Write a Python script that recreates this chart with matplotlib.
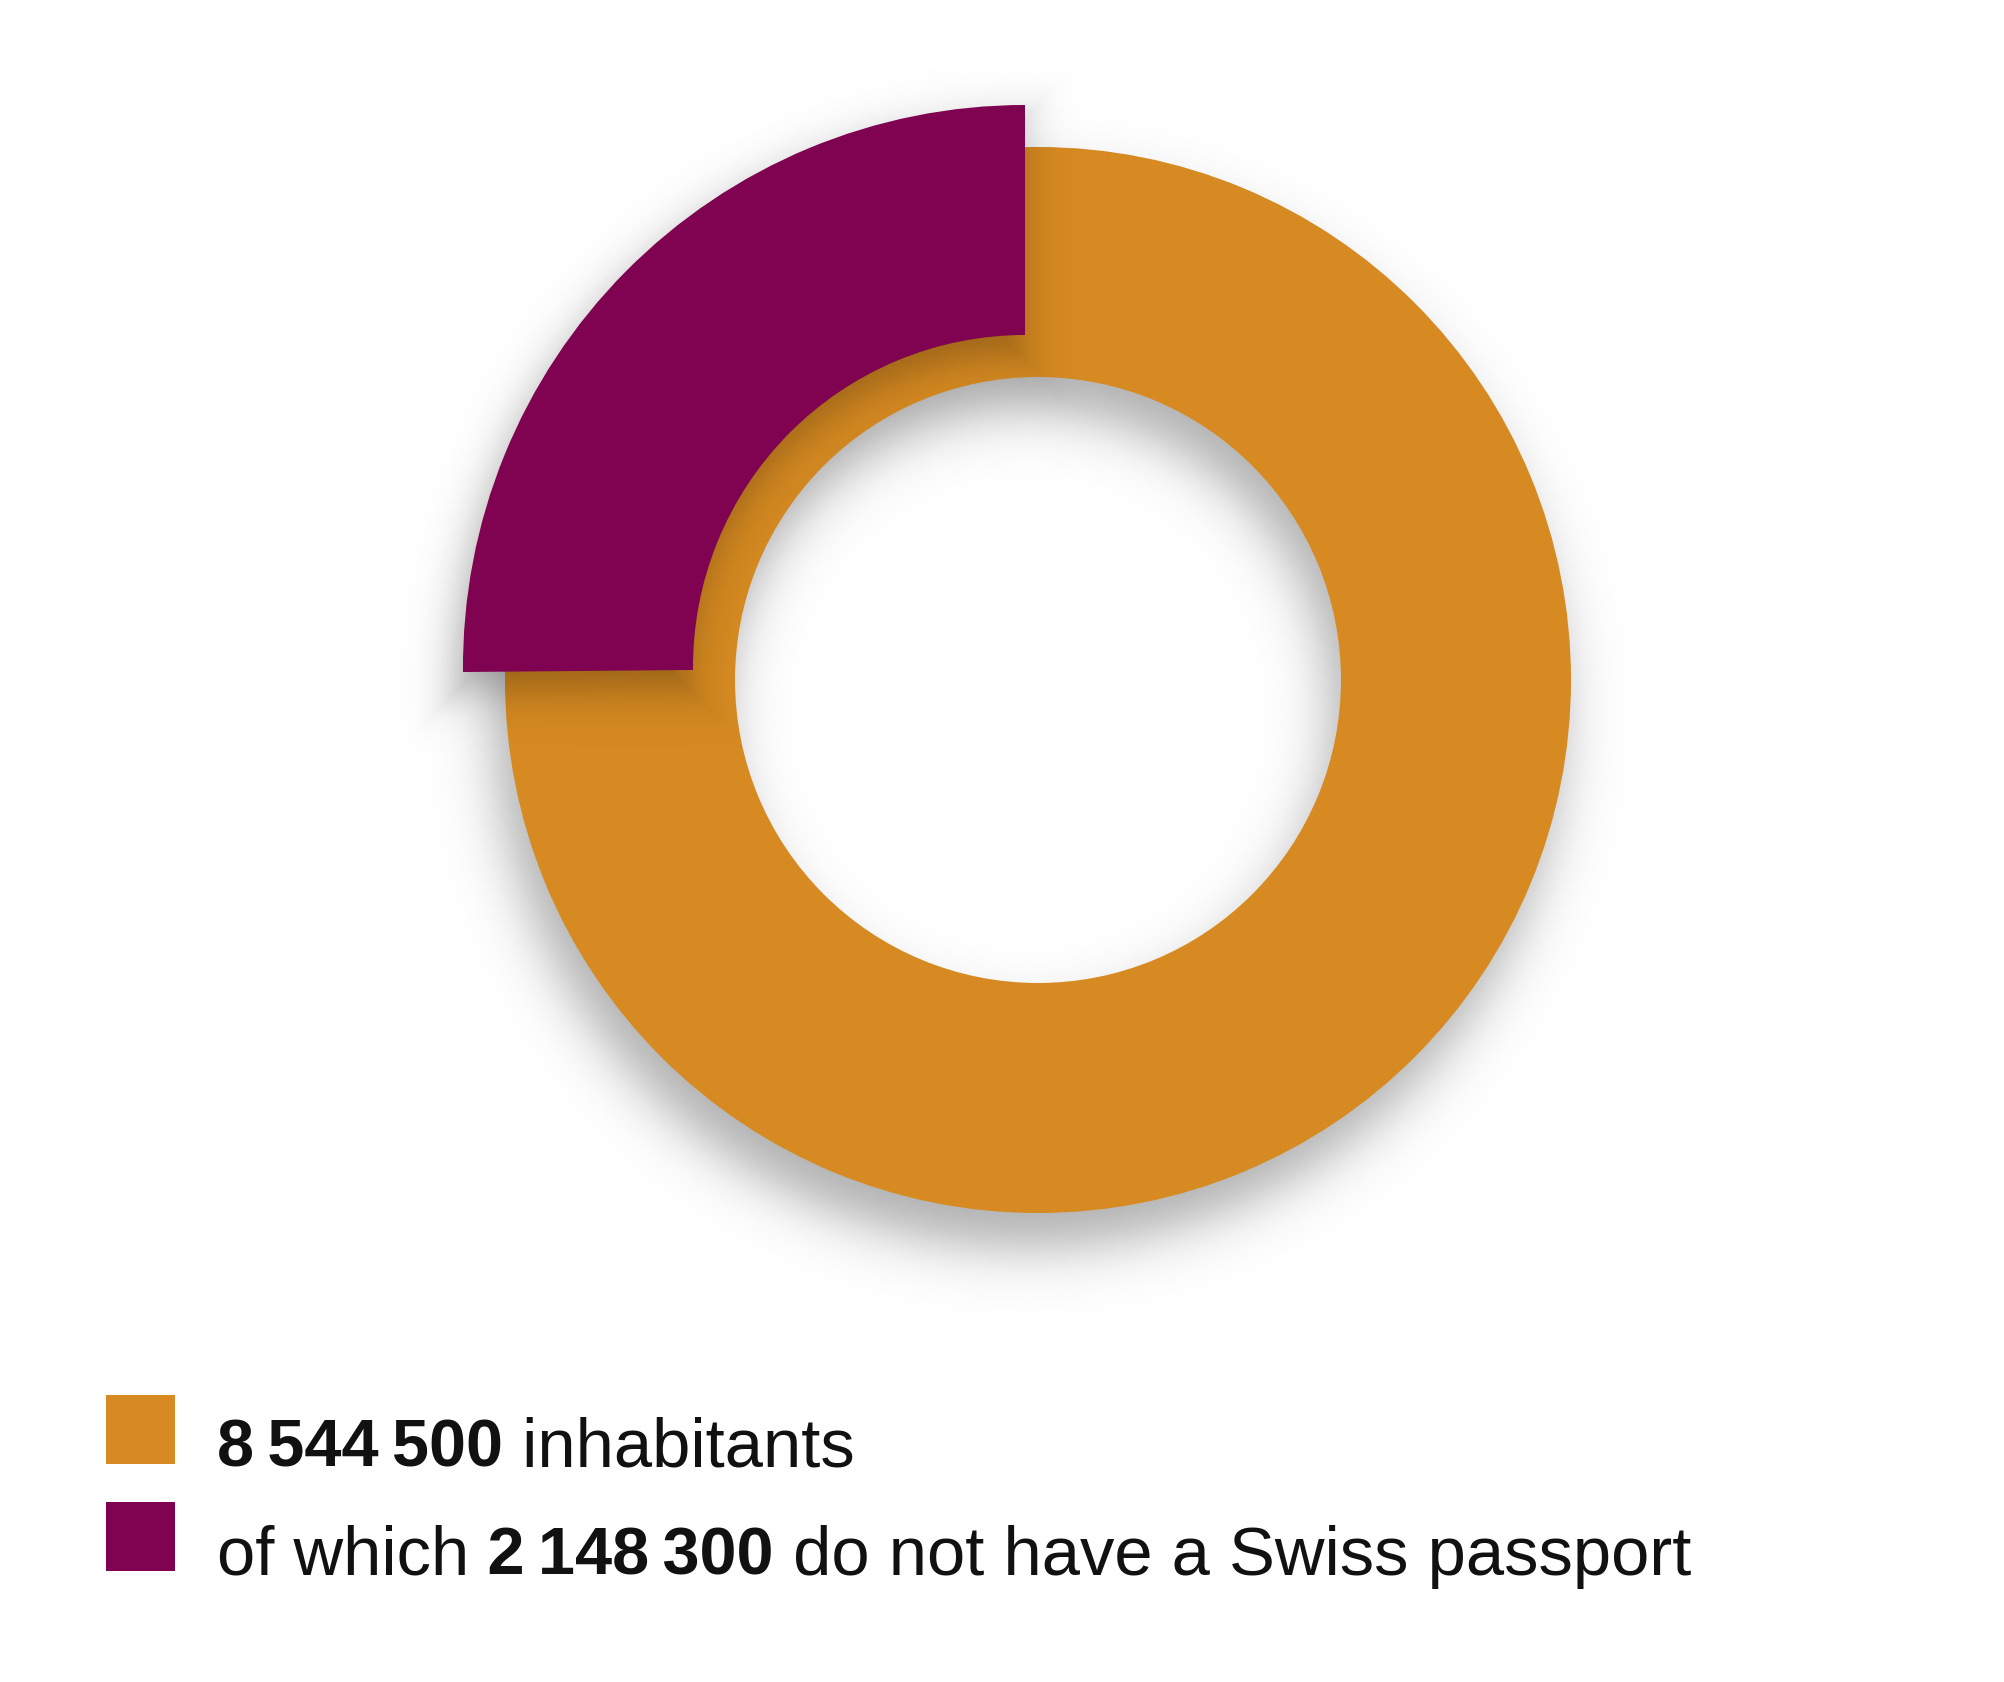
import numpy as np
import matplotlib.pyplot as plt
from matplotlib.patches import Wedge, Rectangle

# data
labels = ['inhabitants', 'do not have a Swiss passport']
values = [8544500, 2148300]
colors = ['#D68A21', '#7F0350']

W, H = 2004, 1683
fig = plt.figure(figsize=(W / 100, H / 100), dpi=100)
ax = fig.add_axes([0, 0, 1, 1])
ax.set_xlim(0, W)
ax.set_ylim(0, H)
ax.axis('off')

# ring geometry (pixel units, y up)
cx, cy = 1038, 1002
r_out, width = 533, 230
# the foreign share is pulled out to the top-left and drawn a bit bigger
pcx, pcy = 1025, 1015
p_out = 562

share = values[1] / values[0]
t1 = 90
t2 = 90 + 360 * share

yy, xx = np.mgrid[0:H, 0:W] + 0.5


def soft(d, s):
    return 1 / (1 + np.exp(np.clip(d / s, -50, 50)))


def shadow(alpha, z):
    img = np.zeros((H, W, 4))
    img[..., 3] = alpha
    ax.imshow(img, extent=(0, W, 0, H), origin='lower', zorder=z,
              interpolation='bilinear')


# drop shadow of the full ring
sx, sy = cx - 10, cy - 34
r = np.hypot(xx - sx, yy - sy)
d = np.maximum(r - r_out, (r_out - width) - r)
shadow(0.32 * soft(d, 17), 1)

ax.add_patch(Wedge((cx, cy), r_out, 0, 360, width=width,
                   facecolor=colors[0], edgecolor='none', zorder=2))

# shadow of the pulled-out segment
sx, sy = pcx - 6, pcy - 18
r = np.hypot(xx - sx, yy - sy)
a2 = np.deg2rad(t2 + 90)
d = np.maximum.reduce([r - p_out, (p_out - width) - r, xx - sx,
                       (xx - sx) * np.cos(a2) + (yy - sy) * np.sin(a2)])
shadow(0.30 * soft(d, 14), 3)

ax.add_patch(Wedge((pcx, pcy), p_out, t1, t2, width=width,
                   facecolor=colors[1], edgecolor='none', zorder=4))

# legend
fam = ['Liberation Sans', 'DejaVu Sans']
sizes = {'bold': 48, 'normal': 49.5}


def fmt(v):
    return f'{v:,}'.replace(',', '\u2009')


rows = [
    [(fmt(values[0]), 'bold'), (' ' + labels[0], 'normal')],
    [('of which', 'normal'), (' ' + fmt(values[1]), 'bold'),
     (' ' + labels[1], 'normal')],
]
row_y = [216, 108]
box_y = [218, 111]

for i, parts in enumerate(rows):
    ax.add_patch(Rectangle((106, box_y[i]), 69, 69, facecolor=colors[i],
                           edgecolor='none', zorder=5))
    prev = None
    for txt, wt in parts:
        if prev is None:
            prev = ax.text(217, row_y[i], txt, fontsize=sizes[wt],
                           fontweight=wt, family=fam, color='#111111',
                           va='baseline', ha='left', zorder=6)
        else:
            prev = ax.annotate(txt, xy=(1, 0), xycoords=prev,
                               fontsize=sizes[wt], fontweight=wt, family=fam,
                               color='#111111', va='bottom', ha='left',
                               zorder=6)

plt.savefig('out.png', dpi=100)
plt.close()
